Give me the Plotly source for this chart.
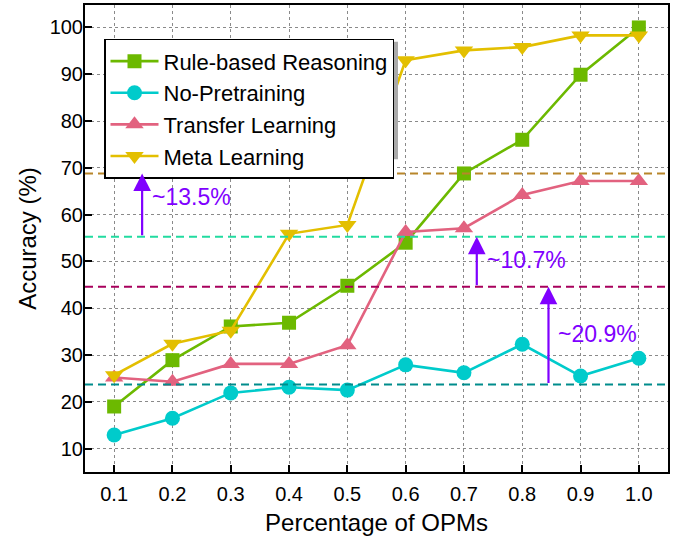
import plotly.graph_objects as go

x_vals = [0.1, 0.2, 0.3, 0.4, 0.5, 0.6, 0.7, 0.8, 0.9, 1.0]
x_ticklabels = ["0.1", "0.2", "0.3", "0.4", "0.5", "0.6", "0.7", "0.8", "0.9", "1.0"]
rule_based = [19.0, 28.9, 36.1, 36.9, 44.8, 54.0, 68.8, 76.0, 89.9, 100.0]
no_pretraining = [12.9, 16.5, 21.9, 23.1, 22.5, 27.9, 26.2, 32.3, 25.5, 29.3]
transfer = [25.2, 24.3, 28.1, 28.1, 32.1, 56.3, 57.1, 64.2, 67.2, 67.2]
meta = [25.7, 32.4, 35.2, 55.9, 57.8, 93.0, 95.1, 95.8, 98.3, 98.3]

series_names = ["Rule-based Reasoning", "No-Pretraining", "Transfer Learning", "Meta Learning"]
series_data = [rule_based, no_pretraining, transfer, meta]
series_colors = ["#6CB900", "#00CBCB", "#E2627F", "#E3BF00"]
series_symbols = ["square", "circle", "triangle-up", "triangle-down"]
series_sizes = [14, 15, 16, 16]

ref_levels = [23.7, 44.6, 55.3, 68.8]
ref_colors = ["#008C8C", "#A8005C", "#22DBA0", "#B8862A"]

gap_labels = ["~13.5%", "~10.7%", "~20.9%"]
gap_x = [0.148, 0.722, 0.845]
gap_from = [55.3, 44.6, 23.7]
gap_to = [68.8, 55.3, 44.6]
gap_text_y = [63.8, 50.2, 34.5]

FONT = "Liberation Sans, Arial, sans-serif"
PURPLE = "#8000FF"

fig = go.Figure()
for name, ys, col, sym, sz in zip(series_names, series_data, series_colors, series_symbols, series_sizes):
    fig.add_trace(go.Scatter(
        x=x_vals, y=ys, name=name, mode="lines+markers",
        line=dict(color=col, width=2.6),
        marker=dict(symbol=sym, size=sz, color=col, line=dict(width=0)),
    ))

for lvl, col in zip(ref_levels, ref_colors):
    fig.add_shape(type="line", xref="paper", yref="y", x0=0, x1=1, y0=lvl, y1=lvl,
                  line=dict(color=col, width=2, dash="8px,5px"), layer="above")

for lbl, gx, y0, y1, ty in zip(gap_labels, gap_x, gap_from, gap_to, gap_text_y):
    fig.add_annotation(x=gx, y=y1, ax=gx, ay=y0, xref="x", yref="y", axref="x", ayref="y",
                       text="", showarrow=True, arrowhead=2, arrowsize=1.6, arrowwidth=2.2,
                       arrowcolor=PURPLE, standoff=0, startstandoff=0)
    fig.add_annotation(x=gx, y=ty, xref="x", yref="y", text=lbl, showarrow=False,
                       xanchor="left", xshift=8, font=dict(family=FONT, size=23, color=PURPLE))

# legend shadow
fig.add_shape(type="rect", xref="paper", yref="paper",
              x0=(107 - 85) / 583, x1=(398 - 85) / 583,
              y0=(472 - 158) / 469, y1=(472 - 40) / 469,
              fillcolor="#AAAAAA", line=dict(width=0), layer="above")

axis_common = dict(
    showline=True, linecolor="black", linewidth=2, mirror=True,
    ticks="inside", ticklen=7, tickwidth=2, tickcolor="black",
    showgrid=True, gridcolor="#8A8A8A", gridwidth=1, griddash="3px,3px",
    zeroline=False, tickfont=dict(family=FONT, size=20, color="black"),
)

fig.update_xaxes(range=[0.05, 1.05], tickvals=x_vals, ticktext=x_ticklabels,
                 ticklabelstandoff=3,
                 title=dict(text="Percentage of OPMs", font=dict(family=FONT, size=24, color="black"), standoff=10),
                 **axis_common)
fig.update_yaxes(range=[5, 104.8], tickvals=[10, 20, 30, 40, 50, 60, 70, 80, 90, 100],
                 ticklabelstandoff=-4,
                 title=dict(text="Accuracy (%)", font=dict(family=FONT, size=24, color="black"), standoff=6),
                 **axis_common)

fig.update_layout(
    width=684, height=543,
    margin=dict(l=85, r=16, t=3, b=71),
    plot_bgcolor="white", paper_bgcolor="white",
    font=dict(family=FONT, color="black"),
    legend=dict(x=(104 - 85) / 583, y=(472 - 37) / 469, xanchor="left", yanchor="top",
                bgcolor="white", bordercolor="black", borderwidth=1.5,
                font=dict(family=FONT, size=22, color="black"),
                itemwidth=48, tracegroupgap=0),
    showlegend=True,
)

fig.write_html("out.html", config={"displayModeBar": False},
               post_script="document.body.style.margin='0px';")
